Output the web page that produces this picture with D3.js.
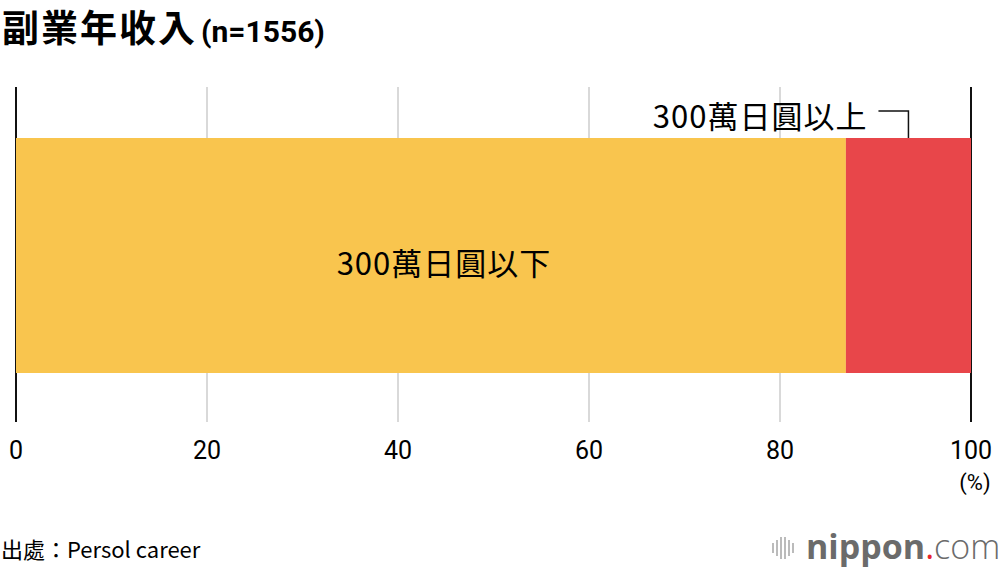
<!DOCTYPE html>
<html>
<head>
<meta charset="utf-8">
<script src="https://cdn.jsdelivr.net/npm/d3@7"></script>
<style>
  body { margin: 0; background: #fff; }
  text { font-family: "Noto Sans CJK TC", "Noto Sans", sans-serif; }
</style>
</head>
<body>
<script>
// data
const categories = ["300萬日圓以下", "300萬日圓以上"];
const shares = [86.9, 13.1];
const colors = ["#F9C54E", "#E8464A"];
const ticks = [0, 20, 40, 60, 80, 100];

const width = 1000;
const height = 570;

const svg = d3.select("body")
    .append("svg")
    .attr("width", width)
    .attr("height", height);

const x = d3.scaleLinear()
    .domain([0, 100])
    .range([16, 971]);

const barTop = 138;
const barBottom = 373;

// gridlines
svg.selectAll("line.grid")
    .data(ticks)
    .enter()
    .append("line")
    .attr("x1", d => x(d))
    .attr("x2", d => x(d))
    .attr("y1", 87)
    .attr("y2", 422)
    .style("stroke", d => (d === 0 || d === 100) ? "#111" : "#ccc")
    .style("stroke-width", d => (d === 0 || d === 100) ? 2 : 1.5);

// stacked bar
let acc = 0;
const stack = shares.map((v, i) => {
    const s = { name: categories[i], x0: acc, x1: acc + v, color: colors[i] };
    acc += v;
    return s;
});

svg.selectAll("rect")
    .data(stack)
    .enter()
    .append("rect")
    .attr("x", d => x(d.x0))
    .attr("width", d => x(d.x1) - x(d.x0))
    .attr("y", barTop)
    .attr("height", barBottom - barTop)
    .attr("fill", d => d.color);

// tick labels
svg.selectAll("text.tick")
    .data(ticks)
    .enter()
    .append("text")
    .attr("x", d => x(d))
    .attr("y", 459)
    .attr("text-anchor", "middle")
    .style("font-size", "25px")
    .style("font-family", "Roboto, sans-serif")
    .text(d => d);

svg.append("text")
    .attr("x", x(100) + 4)
    .attr("y", 490)
    .attr("text-anchor", "middle")
    .style("font-size", "22px")
    .style("font-family", "Roboto, sans-serif")
    .text("(%)");

// bar labels
svg.append("text")
    .attr("x", x(stack[0].x1 / 2) + 13)
    .attr("y", 275)
    .attr("text-anchor", "middle")
    .style("font-size", "31px")
    .style("letter-spacing", "1px")
    .text(stack[0].name);

const rx = x((stack[1].x0 + stack[1].x1) / 2);
svg.append("text")
    .attr("x", rx - 41)
    .attr("y", 128)
    .attr("text-anchor", "end")
    .style("font-size", "31px")
    .style("letter-spacing", "1px")
    .text(stack[1].name);

svg.append("path")
    .attr("d", `M${rx - 30},111 H${rx} V${barTop}`)
    .style("fill", "none")
    .style("stroke", "#111")
    .style("stroke-width", 1.5);

// title
const title = svg.append("text")
    .attr("x", 2)
    .attr("y", 42)
    .style("font-weight", "bold")
    .style("font-size", "37px")
    .style("letter-spacing", "2px");
title.append("tspan").text("副業年收入");
title.append("tspan")
    .attr("dx", 4)
    .style("font-size", "30px")
    .style("font-family", "Roboto, sans-serif")
    .style("letter-spacing", "0px")
    .text("(n=1556)");

// source
svg.append("text")
    .attr("x", 1)
    .attr("y", 558)
    .style("font-size", "22px")
    .text("出處：Persol career");

// logo
const logo = svg.append("g").attr("transform", "translate(772,548)");
[0, 4, 8, 12, 16, 20].forEach((d, i) => {
    const h = [10, 16, 22, 22, 16, 10][i];
    logo.append("rect")
        .attr("x", d)
        .attr("y", -h / 2)
        .attr("width", 2)
        .attr("height", h)
        .attr("fill", "#bbb");
});
const lt = svg.append("text")
    .attr("x", 806)
    .attr("y", 559)
    .style("font-size", "34px")
    .style("font-family", "'Open Sans', sans-serif")
    .style("fill", "#6b6b6b");
lt.append("tspan").style("font-weight", "bold").text("nippon");
lt.append("tspan").style("fill", "#e8242c").text(".");
lt.append("tspan").style("font-weight", "300").text("com");
</script>
</body>
</html>
